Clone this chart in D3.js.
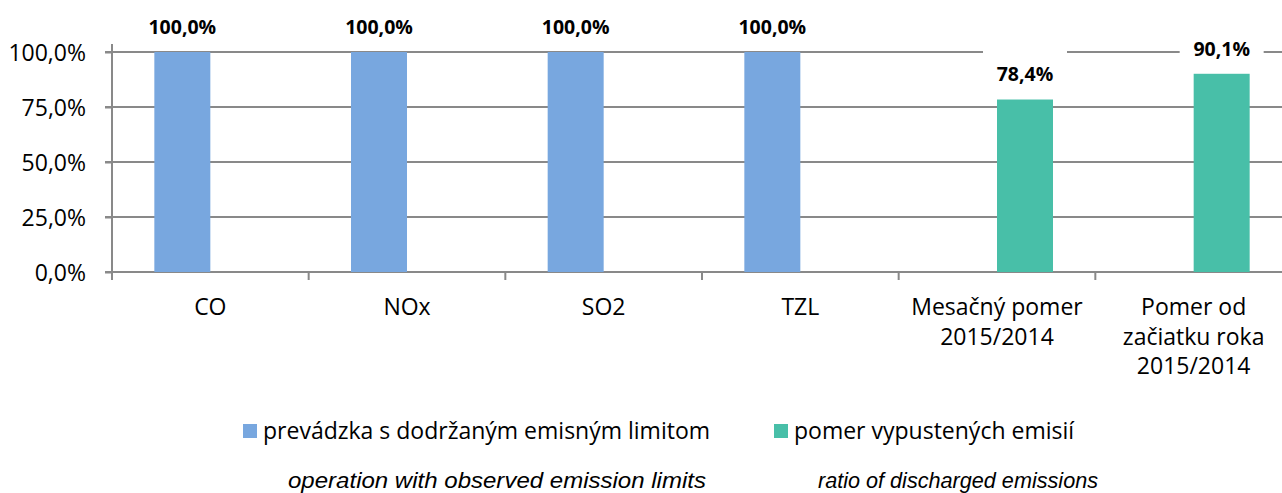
<!DOCTYPE html>
<html><head><meta charset="utf-8">
<script src="https://cdn.jsdelivr.net/npm/d3@7/dist/d3.min.js"></script>
<style>html,body{margin:0;padding:0;background:#fff;overflow:hidden}svg{display:block}</style>
</head><body>
<svg id="chart" width="1282" height="493"></svg>
<script>
const categories = [["CO"],["NOx"],["SO2"],["TZL"],["Mesačný pomer","2015/2014"],["Pomer od","začiatku roka","2015/2014"]];
const seriesNames = ["prevádzka s dodržaným emisným limitom","pomer vypustených emisií"];
const seriesEnglish = ["operation with observed emission limits","ratio of discharged emissions"];
const compliance = [100, 100, 100, 100, null, null];
const ratio = [null, null, null, null, 78.4, 90.1];
const yTicks = [0, 25, 50, 75, 100];

const colors = ["#78A7DF", "#48BFA8"];
const gridColor = "#898989";
const font = "'Open Sans', sans-serif";
const fs = 23;

const svg = d3.select("#chart");
const keys = categories.map((c,i)=>"c"+i);
const x = d3.scaleBand().domain(keys).range([112, 1292]).paddingInner(0).paddingOuter(0);
const x1 = d3.scaleBand().domain(["s0","s1"]).range([0, x.bandwidth()]).paddingInner(0).paddingOuter(0.756);
const y = d3.scaleLinear().domain([0, 100]).range([272, 52]);
const fmt = v => d3.format(".1f")(v).replace(".", ",") + "%";

// gridlines
svg.append("g").selectAll("line").data(yTicks.filter(t=>t>0)).join("line")
  .attr("x1", 105).attr("x2", 1282).attr("y1", d=>y(d)).attr("y2", d=>y(d))
  .attr("stroke", gridColor).attr("stroke-width", 2);

// y axis
const yAxis = d3.axisLeft(y).tickValues(yTicks).tickSize(7).tickFormat(fmt);
const gy = svg.append("g").attr("transform","translate(112,0)").call(yAxis);
gy.select(".domain").remove();
gy.selectAll(".tick line").attr("stroke", gridColor).attr("stroke-width", 2);
gy.selectAll(".tick text").attr("x", -26).attr("font-family", font).attr("font-size", fs).attr("fill","#000").attr("dy","0.35em");
svg.append("line").attr("x1",112).attr("x2",112).attr("y1",44).attr("y2",280).attr("stroke",gridColor).attr("stroke-width",2);

// x axis
const xAxis = d3.axisBottom(x).tickSize(0).tickFormat("");
const gx = svg.append("g").attr("transform","translate(0,272)").call(xAxis);
gx.select(".domain").remove();
svg.append("line").attr("x1",105).attr("x2",1282).attr("y1",272).attr("y2",272).attr("stroke",gridColor).attr("stroke-width",2);
svg.append("g").selectAll("line").data(keys).join("line")
  .attr("x1", d=>x(d)).attr("x2", d=>x(d)).attr("y1",272).attr("y2",280)
  .attr("stroke",gridColor).attr("stroke-width",2);

// category labels
const cl = svg.append("g").selectAll("text").data(categories).join("text")
  .attr("x",(d,i)=>x(keys[i]) + x.bandwidth()/2).attr("y",307)
  .attr("text-anchor","middle").attr("font-family",font).attr("font-size",fs).attr("fill","#000");
cl.selectAll("tspan").data(d=>d).join("tspan")
  .attr("x", function(){return this.parentNode.getAttribute("x");})
  .attr("dy",(d,i)=>i===0?"0.35em":"29.5").text(d=>d);

// bars
const series = [compliance, ratio];
series.forEach((vals, s) => {
  const data = vals.map((v,i)=>({v, k:keys[i]})).filter(d=>d.v!=null);
  svg.append("g").selectAll("rect").data(data).join("rect")
    .attr("x", d=>x(d.k)+x1("s"+s)).attr("width", x1.bandwidth())
    .attr("y", d=>y(d.v)).attr("height", d=>y(0)-y(d.v))
    .attr("fill", colors[s]);
});

// data labels
series.forEach((vals, s) => {
  const data = vals.map((v,i)=>({v, k:keys[i]})).filter(d=>d.v!=null);
  const g = svg.append("g");
  data.forEach(d=>{
    const cx = x(d.k)+x1("s"+s)+x1.bandwidth()/2;
    const cy = y(d.v)-25;
    if (s===1) {
      g.append("rect").attr("x",cx-42).attr("y",cy-27).attr("width",84).attr("height",35).attr("fill","#fff");
    }
    g.append("text").attr("x",cx).attr("y",cy).attr("dy","0.35em").attr("text-anchor","middle")
      .attr("font-family",font).attr("font-weight","bold").attr("font-size",19.5).attr("fill","#000").text(fmt(d.v));
  });
});

// legend
const legX = [243, 774];
const lg = svg.append("g");
seriesNames.forEach((n,i)=>{
  lg.append("rect").attr("x",legX[i]).attr("y",424).attr("width",14).attr("height",14).attr("fill",colors[i]);
  lg.append("text").attr("x",legX[i]+20).attr("y",431).attr("dy","0.35em")
    .attr("font-family",font).attr("font-size",fs).attr("fill","#000").text(n);
});
const engX = [497, 958];
const engW = [418, 280];
seriesEnglish.forEach((n,i)=>{
  svg.append("text").attr("x",engX[i]).attr("y",480).attr("dy","0.35em").attr("text-anchor","middle")
    .attr("font-family","'Liberation Sans', Arial, sans-serif").attr("font-style","italic").attr("font-size",21.5)
    .attr("textLength", engW[i]).attr("lengthAdjust","spacingAndGlyphs").attr("fill","#000").text(n);
});
</script>
</body></html>
